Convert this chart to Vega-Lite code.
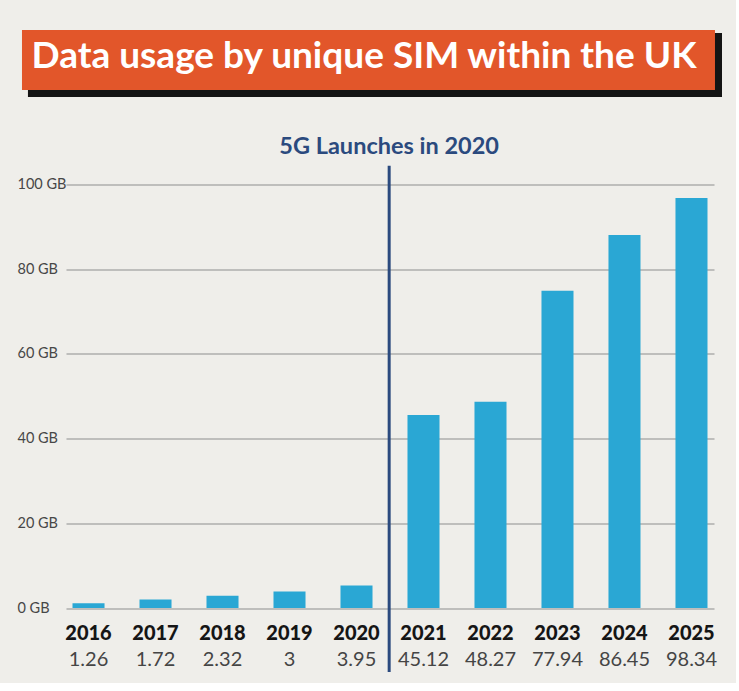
{
  "$schema": "https://vega.github.io/schema/vega-lite/v6.json",
  "background": "#efeeea",
  "padding": {"left": 17, "top": 30, "right": 14, "bottom": 9},
  "spacing": 37.5,
  "config": {"view": {"stroke": null}, "font": "Lato", "text": {"font": "Lato"}},
  "vconcat": [
    {
      "width": 656,
      "height": 67,
      "data": {"values": [{"title": "Data usage by unique SIM within the UK"}]},
      "layer": [
        {
          "mark": {"type": "rect", "color": "#141414"},
          "encoding": {
            "x": {"datum": -0.058, "type": "quantitative", "scale": {"domain": [0, 1], "nice": false, "zero": false}, "axis": null},
            "x2": {"datum": 1},
            "y": {"datum": 0, "type": "quantitative", "scale": {"domain": [0, 1], "nice": false, "zero": false}, "axis": null},
            "y2": {"datum": 0.955}
          }
        },
        {
          "mark": {"type": "rect", "color": "#e2562a"},
          "encoding": {
            "x": {"datum": -0.0671, "type": "quantitative"},
            "x2": {"datum": 0.9893},
            "y": {"datum": 0.104, "type": "quantitative"},
            "y2": {"datum": 1}
          }
        },
        {
          "mark": {"type": "text", "color": "#ffffff", "fontSize": 37, "fontWeight": "bold", "align": "center", "baseline": "alphabetic", "font": "Lato"},
          "encoding": {
            "x": {"datum": 0.4543, "type": "quantitative"},
            "y": {"datum": 0.44, "type": "quantitative"},
            "text": {"field": "title"}
          }
        }
      ]
    },
    {
      "width": 648,
      "height": 423.5,
      "layer": [
        {
          "data": {"values": [
            {"year": "2016", "gb": 1.1, "label": "1.26"},
            {"year": "2017", "gb": 2.0, "label": "1.72"},
            {"year": "2018", "gb": 2.9, "label": "2.32"},
            {"year": "2019", "gb": 3.9, "label": "3"},
            {"year": "2020", "gb": 5.3, "label": "3.95"},
            {"year": "2021", "gb": 45.6, "label": "45.12"},
            {"year": "2022", "gb": 48.7, "label": "48.27"},
            {"year": "2023", "gb": 74.9, "label": "77.94"},
            {"year": "2024", "gb": 88.1, "label": "86.45"},
            {"year": "2025", "gb": 96.8, "label": "98.34"}
          ]},
          "layer": [
            {
              "mark": {"type": "bar", "color": "#2aa7d4"},
              "encoding": {
                "x": {
                  "field": "year", "type": "ordinal",
                  "scale": {"paddingInner": 0.522, "paddingOuter": 0.097},
                  "axis": {
                    "title": null, "domain": false, "ticks": false, "tickSize": 0, "labelAngle": 0,
                    "labelFont": "Lato", "labelFontSize": 20, "labelFontWeight": 900, "labelColor": "#151515",
                    "labelBaseline": "alphabetic", "labelPadding": 31
                  }
                },
                "y": {
                  "field": "gb", "type": "quantitative",
                  "scale": {"domain": [0, 100], "nice": false},
                  "axis": {
                    "title": null, "values": [0, 20, 40, 60, 80, 100],
                    "labelExpr": "datum.value + ' GB'",
                    "labelAlign": "left", "labelPadding": 49, "labelFont": "Lato", "labelFontSize": 14.5,
                    "labelColor": "#474747", "domain": false, "ticks": false, "tickSize": 0,
                    "gridColor": "#aeaeac", "gridWidth": 1.5
                  }
                }
              }
            },
            {
              "mark": {"type": "text", "fontSize": 20, "color": "#454545", "baseline": "alphabetic", "align": "center", "font": "Lato"},
              "encoding": {
                "x": {"field": "year", "type": "ordinal", "bandPosition": 0.5},
                "y": {"datum": -13.7, "type": "quantitative"},
                "text": {"field": "label"}
              }
            }
          ]
        },
        {
          "data": {"values": [{"note": "5G Launches in 2020", "launch": "2020"}]},
          "layer": [
            {
              "mark": {"type": "rule", "color": "#2b4a7e", "strokeWidth": 3},
              "encoding": {
                "x": {"field": "launch", "type": "ordinal", "bandPosition": 1.52},
                "y": {"datum": 104.4, "type": "quantitative"},
                "y2": {"datum": -15.1}
              }
            },
            {
              "mark": {"type": "text", "color": "#2b4a7e", "fontSize": 23.5, "fontWeight": "bold", "baseline": "alphabetic", "align": "center", "font": "Lato"},
              "encoding": {
                "x": {"field": "launch", "type": "ordinal", "bandPosition": 1.52},
                "y": {"datum": 107.2, "type": "quantitative"},
                "text": {"field": "note"}
              }
            }
          ]
        }
      ]
    }
  ]
}
